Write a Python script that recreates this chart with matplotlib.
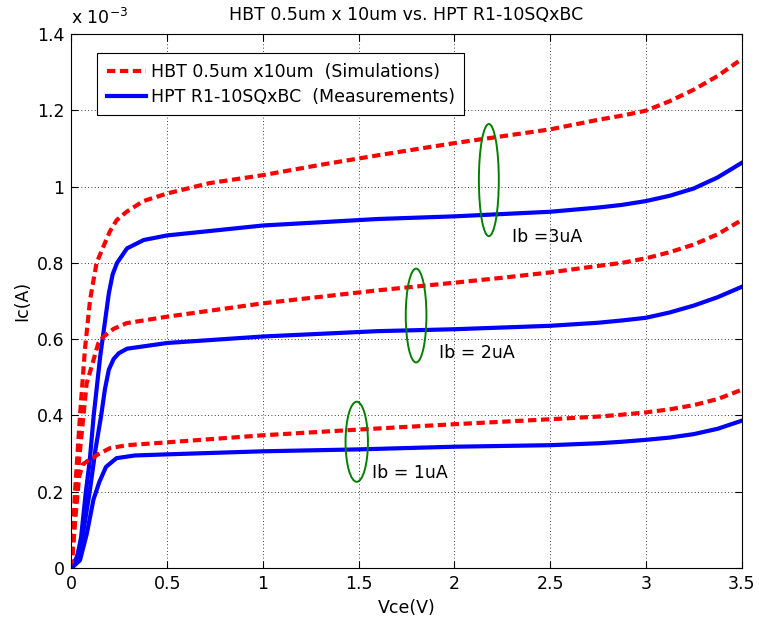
import matplotlib
matplotlib.use("Agg")
import matplotlib.pyplot as plt
from matplotlib.patches import Ellipse
from matplotlib.ticker import FuncFormatter, MultipleLocator

plt.rcParams["font.family"] = ["DejaVu Sans"]

# Ic in units of 1e-3 A, Vce in V
# simulations (HBT, red dashed)
vce_sim_3u = [0, 0.018, 0.044, 0.07, 0.097, 0.131, 0.166, 0.2, 0.236, 0.288, 0.375, 0.5, 0.72, 1.0,
              1.3, 1.6, 2.0, 2.25, 2.5, 2.75, 2.875, 3.0, 3.125, 3.25, 3.375, 3.5]
ic_sim_3u = [0, 0.196, 0.397, 0.572, 0.703, 0.80, 0.842, 0.882, 0.912, 0.934, 0.962, 0.982, 1.009, 1.03,
             1.057, 1.082, 1.114, 1.132, 1.15, 1.175, 1.186, 1.199, 1.224, 1.254, 1.29, 1.334]

vce_sim_2u = [0, 0.036, 0.062, 0.079, 0.105, 0.14, 0.166, 0.22, 0.288, 0.5, 1.0,
              1.6, 2.0, 2.25, 2.5, 2.75, 2.875, 3.0, 3.125, 3.25, 3.375, 3.5]
ic_sim_2u = [0, 0.266, 0.397, 0.484, 0.528, 0.589, 0.606, 0.627, 0.642, 0.659, 0.694,
             0.728, 0.748, 0.761, 0.775, 0.792, 0.80, 0.812, 0.828, 0.848, 0.875, 0.912]

vce_sim_1u = [0, 0.02, 0.04, 0.06, 0.09, 0.114, 0.131, 0.2, 0.288, 0.46, 1.0,
              1.5, 2.0, 2.5, 2.75, 2.875, 3.0, 3.125, 3.25, 3.375, 3.5]
ic_sim_1u = [0, 0.13, 0.24, 0.272, 0.283, 0.288, 0.296, 0.314, 0.322, 0.328, 0.348,
             0.363, 0.377, 0.39, 0.397, 0.402, 0.408, 0.416, 0.427, 0.443, 0.467]

# measurements (HPT, blue solid)
vce_meas_3u = [0, 0.03, 0.05, 0.075, 0.095, 0.116, 0.15, 0.195, 0.215, 0.238, 0.29, 0.377, 0.5, 1.0,
               1.6, 2.0, 2.5, 2.75, 2.875, 3.0, 3.125, 3.25, 3.375, 3.5]
ic_meas_3u = [0, 0.03, 0.08, 0.2, 0.28, 0.40, 0.555, 0.72, 0.77, 0.80, 0.838, 0.86, 0.872, 0.898,
              0.915, 0.922, 0.934, 0.945, 0.952, 0.962, 0.976, 0.995, 1.024, 1.062]

vce_meas_2u = [0, 0.03, 0.06, 0.095, 0.125, 0.155, 0.175, 0.195, 0.22, 0.247, 0.29, 0.5, 1.0,
               1.6, 2.0, 2.5, 2.75, 2.875, 3.0, 3.125, 3.25, 3.375, 3.5]
ic_meas_2u = [0, 0.03, 0.09, 0.2, 0.31, 0.40, 0.47, 0.52, 0.548, 0.563, 0.575, 0.59, 0.607,
              0.621, 0.626, 0.635, 0.643, 0.649, 0.656, 0.670, 0.688, 0.71, 0.737]

vce_meas_1u = [0, 0.044, 0.08, 0.115, 0.145, 0.18, 0.235, 0.33, 0.5, 1.0,
               1.5, 2.0, 2.5, 2.75, 2.875, 3.0, 3.125, 3.25, 3.375, 3.5]
ic_meas_1u = [0, 0.02, 0.09, 0.18, 0.225, 0.265, 0.288, 0.295, 0.298, 0.306,
              0.311, 0.318, 0.322, 0.327, 0.331, 0.336, 0.342, 0.351, 0.365, 0.386]

# annotations: ellipse centre/size and label position
ib_labels = ["Ib =3uA", "Ib = 2uA", "Ib = 1uA"]
ellipse_xy = [(2.18, 1.017), (1.80, 0.662), (1.49, 0.331)]
ellipse_wh = [(0.104, 0.294), (0.108, 0.246), (0.117, 0.21)]
label_xy = [(2.30, 0.869), (1.92, 0.563), (1.57, 0.25)]

fig = plt.figure(figsize=(7.59, 6.22), dpi=100)
ax = fig.add_axes([0.0942, 0.0868, 0.8828, 0.8585])

red = "#ff0000"
blue = "#0000ff"
lw = 3.0
dash = (2.0, 1.1)
fs = 12.5

ax.plot(vce_sim_3u, ic_sim_3u, color=red, lw=lw, dashes=dash,
        label="HBT 0.5um x10um  (Simulations)")
ax.plot(vce_meas_3u, ic_meas_3u, color=blue, lw=lw,
        label="HPT R1-10SQxBC  (Measurements)")
ax.plot(vce_sim_2u, ic_sim_2u, color=red, lw=lw, dashes=dash)
ax.plot(vce_meas_2u, ic_meas_2u, color=blue, lw=lw)
ax.plot(vce_sim_1u, ic_sim_1u, color=red, lw=lw, dashes=dash)
ax.plot(vce_meas_1u, ic_meas_1u, color=blue, lw=lw)

for (cx, cy), (w, h), txt, (tx, ty) in zip(ellipse_xy, ellipse_wh, ib_labels, label_xy):
    ax.add_patch(Ellipse((cx, cy), w, h, fill=False, edgecolor="#008000", lw=1.4, zorder=5))
    ax.text(tx, ty, txt, fontsize=fs, va="center", ha="left")

ax.set_xlim(0, 3.5)
ax.set_ylim(0, 1.4)
ax.xaxis.set_major_locator(MultipleLocator(0.5))
ax.yaxis.set_major_locator(MultipleLocator(0.2))
fmt = FuncFormatter(lambda v, p: "%g" % round(v, 3))
ax.xaxis.set_major_formatter(fmt)
ax.yaxis.set_major_formatter(fmt)
ax.tick_params(direction="in", length=5, width=0.8, labelsize=fs, top=True, right=True, pad=5)
ax.grid(True, color="black", linestyle=(0, (1, 3)), linewidth=0.6)
for s in ax.spines.values():
    s.set_linewidth(0.8)

ax.set_xlabel("Vce(V)", fontsize=fs, labelpad=4)
ax.set_ylabel("Ic(A)", fontsize=fs, labelpad=4)
ax.set_title("HBT 0.5um x 10um vs. HPT R1-10SQxBC", fontsize=fs, pad=10)
ax.text(0.0, 1.012, "x 10$^{-3}$", transform=ax.transAxes, fontsize=fs, ha="left", va="bottom")

leg = ax.legend(loc="upper left", bbox_to_anchor=(0.038, 0.964), fontsize=fs, frameon=True,
                fancybox=False, edgecolor="black", framealpha=1, handlelength=2.3,
                borderpad=0.55, labelspacing=0.4, handletextpad=0.25, borderaxespad=0)
leg.get_frame().set_linewidth(0.8)

fig.savefig("out.png", dpi=100)
